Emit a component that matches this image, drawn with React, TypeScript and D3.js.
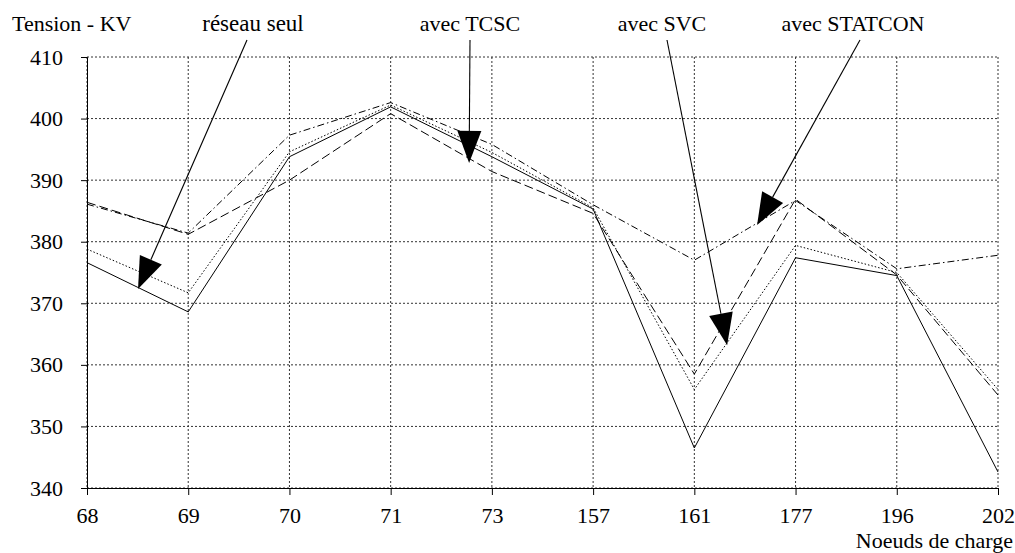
import React, { useEffect, useRef } from 'react';
import * as d3 from 'd3';

// noeuds de charge (axe x)
const noeuds = ['68', '69', '70', '71', '73', '157', '161', '177', '196', '202'];
const yTicks = [340, 350, 360, 370, 380, 390, 400, 410];

// tensions (kV)
const reseauSeul = [376.6, 368.6, 393.8, 401.9, 393.8, 385.3, 346.5, 377.4, 374.5, 342.6];
const avecSVC = [378.8, 371.7, 394.6, 402.2, 394.5, 385.5, 356.0, 379.4, 375.0, 356.0];
const avecTCSC = [386.4, 381.2, 390.0, 400.8, 391.4, 384.6, 358.5, 386.9, 374.6, 355.1];
const avecSTATCON = [386.1, 381.4, 397.3, 402.6, 395.8, 386.0, 377.0, 386.7, 375.6, 377.8];

// annotations: texte + pointe de la flèche (index de noeud, tension)
const labels = ['réseau seul', 'avec TCSC', 'avec SVC', 'avec STATCON'];
const labelX = [253, 470, 662, 853];
const lineStartX = [247, 470, 667, 860];
const tipIdx = [0.504, 3.775, 6.324, 6.62];
const tipVal = [372.3, 392.8, 363.2, 382.7];

const W = 1015;
const H = 553;

const App: React.FC = () => {
  const svgRef = useRef<SVGSVGElement>(null);

  useEffect(() => {
    if (!svgRef.current) return;
    const svg = d3.select(svgRef.current);
    svg.selectAll('*').remove();

    const left = 87, right = 998, top = 57, bottom = 488;
    const x = d3.scalePoint<string>().domain(noeuds).range([left, right]);
    const y = d3.scaleLinear().domain([340, 410]).range([bottom, top]);
    const step = x.step();
    const xi = (i: number) => left + i * step;

    const font = "'Liberation Serif', 'Times New Roman', Times, serif";

    // grille pointillée
    const grid = svg.append('g');
    yTicks.forEach((t) => {
      grid.append('line')
        .attr('x1', left).attr('x2', right)
        .attr('y1', y(t)).attr('y2', y(t))
        .attr('stroke', '#333').attr('stroke-width', 1)
        .attr('stroke-dasharray', '2,2');
    });
    noeuds.forEach((n) => {
      grid.append('line')
        .attr('x1', x(n)!).attr('x2', x(n)!)
        .attr('y1', top).attr('y2', bottom)
        .attr('stroke', '#333').attr('stroke-width', 1)
        .attr('stroke-dasharray', '2,2');
    });

    // axes
    const yAxis = d3.axisLeft(y).tickValues(yTicks).tickSize(6).tickFormat(d3.format('d'));
    const gy = svg.append('g').attr('transform', `translate(${left},0)`).call(yAxis);
    gy.attr('font-family', null).attr('font-size', null);
    gy.selectAll('text')
      .style('font-family', font).style('font-size', '22px').attr('fill', '#000')
      .attr('x', -24);
    gy.select('.domain').attr('stroke', '#000');

    const xAxis = d3.axisBottom(x).tickSize(7).tickSizeOuter(0);
    const gx = svg.append('g').attr('transform', `translate(0,${bottom})`).call(xAxis);
    gx.attr('font-family', null).attr('font-size', null);
    gx.selectAll('text')
      .style('font-family', font).style('font-size', '22px').attr('fill', '#000')
      .attr('dy', 0).attr('y', 35);
    gx.select('.domain').attr('stroke', '#000');

    // courbes
    const line = d3.line<number>()
      .x((_, i) => x(noeuds[i])!)
      .y((d) => y(d));

    const series: [number[], string][] = [
      [reseauSeul, ''],
      [avecSVC, '1.5,2'],
      [avecTCSC, '9,4'],
      [avecSTATCON, '7,3,1.5,3'],
    ];
    series.forEach(([vals, dash]) => {
      svg.append('path')
        .datum(vals)
        .attr('d', line)
        .attr('fill', 'none')
        .attr('stroke', '#000')
        .attr('stroke-width', 1)
        .attr('stroke-dasharray', dash || null);
    });

    // titres
    svg.append('text').attr('x', 12).attr('y', 31)
      .style('font-family', font).style('font-size', '22px').text('Tension - KV');
    svg.append('text').attr('x', 1013).attr('y', 548).attr('text-anchor', 'end')
      .style('font-family', font).style('font-size', '22px').text('Noeuds de charge');

    // étiquettes + flèches
    labels.forEach((lab, i) => {
      svg.append('text').attr('x', labelX[i]).attr('y', 31).attr('text-anchor', 'middle')
        .style('font-family', font).style('font-size', i === 0 ? '23px' : '22px').text(lab);

      const tx = xi(tipIdx[i]);
      const ty = y(tipVal[i]);
      const sx = lineStartX[i];
      const sy = 40;
      const dx = sx - tx, dy = sy - ty;
      const len = Math.hypot(dx, dy);
      const ux = dx / len, uy = dy / len;
      const hl = 32, hw = 12;
      const bx = tx + ux * hl, by = ty + uy * hl;
      svg.append('line')
        .attr('x1', sx).attr('y1', sy).attr('x2', bx).attr('y2', by)
        .attr('stroke', '#000').attr('stroke-width', 1.1);
      svg.append('path')
        .attr('d', `M${tx},${ty}L${bx - uy * hw},${by + ux * hw}L${bx + uy * hw},${by - ux * hw}Z`)
        .attr('fill', '#000');
    });
  }, []);

  return (
    <svg
      ref={svgRef}
      width={W}
      height={H}
      viewBox={`0 0 ${W} ${H}`}
      style={{ position: 'absolute', left: 0, top: 0, background: '#fff' }}
    />
  );
};

export default App;
